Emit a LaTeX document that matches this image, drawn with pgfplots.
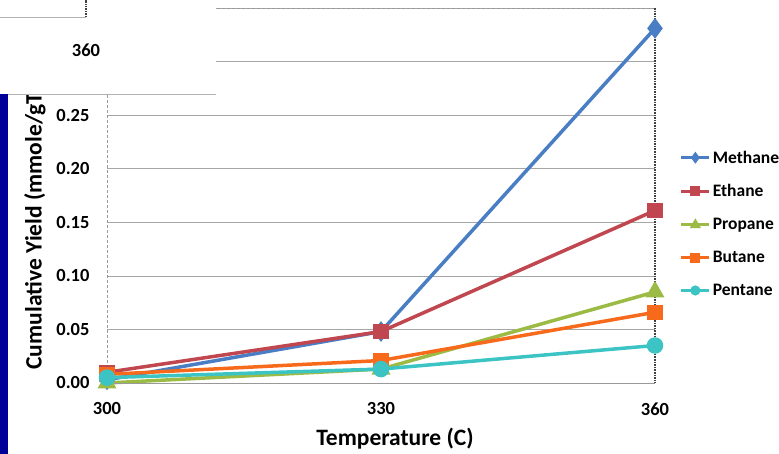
\documentclass[border=0pt]{standalone}
\usepackage{pgfplots}
\pgfplotsset{compat=1.18}
\usepackage{fontspec}
\setmainfont{Carlito}
\definecolor{cMeth}{HTML}{4A7EC4}
\definecolor{cEth}{HTML}{C0464F}
\definecolor{cProp}{HTML}{9BBB45}
\definecolor{cBut}{HTML}{F76A1C}
\definecolor{cPent}{HTML}{3CC4C4}
\definecolor{barblue}{HTML}{000099}
\begin{document}
\begin{tikzpicture}[x=1pt,y=1pt]
\useasboundingbox (0,0) rectangle (779,454);
\begin{axis}[
  at={(107pt,71pt)}, anchor=south west,
  scale only axis, width=548pt, height=375pt,
  xmin=300, xmax=360, ymin=0, ymax=0.35,
  xtick={300,330,360}, ytick={0,0.05,0.1,0.15,0.2,0.25,0.3,0.35},
  yticklabels={0.00,0.05,0.10,0.15,0.20,0.25,{},{}},
  /pgf/number format/assume math mode=true,
  tick label style={font=\fontsize{18.5}{20}\selectfont\bfseries},
  xticklabel style={yshift=-16pt},
  yticklabel style={xshift=-14pt},
  major tick length=0pt,
  axis line style={draw=none},
  ymajorgrids, grid style={draw=gray!70, line width=0.6pt},
  xlabel={Temperature (C)}, ylabel={Cumulative Yield (mmole/gTOC)},
  xlabel style={font=\fontsize{23.5}{25}\selectfont\bfseries, yshift=-6pt, xshift=14pt},
  ylabel style={font=\fontsize{23.5}{25}\selectfont\bfseries, yshift=4pt, xshift=-18pt},
  legend style={at={(1.045,0.625)}, anchor=north west, draw=none, fill=none,
    font=\fontsize{17.5}{19}\selectfont\bfseries, row sep=16pt, inner sep=0pt,
    legend cell align=left},
  legend image code/.code={\draw[#1, line width=3pt, mark size=3.5pt, mark repeat=2, mark phase=2] plot coordinates {(0pt,0pt) (14pt,0pt) (28pt,0pt)};},
  clip=false,
]
\addplot[cMeth, line width=3.5pt, mark=diamond*, mark size=7.5pt] coordinates {(300,0.003) (330,0.048) (360,0.331)};
\addplot[cEth, line width=3.5pt, mark=square*, mark size=6pt] coordinates {(300,0.010) (330,0.048) (360,0.161)};
\addplot[cProp, line width=3.5pt, mark=triangle*, mark size=7.5pt] coordinates {(300,0.000) (330,0.013) (360,0.085)};
\addplot[cBut, line width=3.5pt, mark=square*, mark size=6pt] coordinates {(300,0.008) (330,0.021) (360,0.066)};
\addplot[cPent, line width=3.5pt, mark=*, mark size=6.5pt] coordinates {(300,0.005) (330,0.013) (360,0.035)};
\legend{Methane,Ethane,Propane,Butane,Pentane}
\draw[gray!80, densely dashed, line width=0.8pt] (rel axis cs:0,0) -- (rel axis cs:0,1) -- (rel axis cs:1,1);
\draw[black!75, densely dotted, line width=1.6pt] (rel axis cs:1,1) -- (rel axis cs:1,0);
\draw[gray!80, line width=0.8pt] (rel axis cs:0,0) -- (rel axis cs:1,0);
\end{axis}
% overlay artefacts of the screenshot
\fill[white] (0,360) rectangle (216,454);
\draw[gray!60, line width=0.8pt] (0,360) -- (216,360);
\draw[gray!60, line width=0.8pt] (0,437) -- (86,437);
\draw[black!75, densely dotted, line width=1.4pt] (86,437) -- (86,454);
\node[font=\fontsize{18.5}{20}\selectfont\bfseries] at (86,404) {360};
\fill[barblue] (0,0) rectangle (8,359.5);
\end{tikzpicture}
\end{document}
